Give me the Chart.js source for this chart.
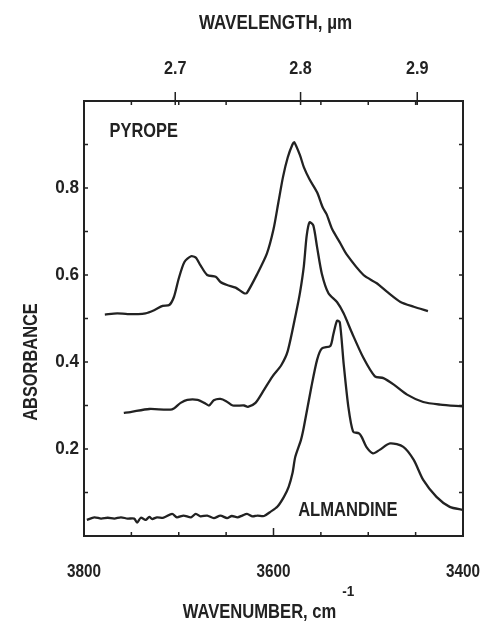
<!DOCTYPE html>
<html>
<head>
<meta charset="utf-8">
<script src="https://cdn.jsdelivr.net/npm/chart.js@4.4.0/dist/chart.umd.min.js"></script>
<style>
  body { margin: 0; background: #fff; }
  #c { display: block; }
</style>
</head>
<body>
<canvas id="c" width="486" height="631"></canvas>
<script>
// spectra (wavenumber cm-1, absorbance)
var pyropeWn = [3778, 3765, 3754, 3735, 3726, 3717, 3710, 3705, 3700, 3694, 3687, 3682, 3677, 3670, 3661, 3656, 3649, 3640, 3631, 3628, 3617, 3607, 3600, 3595, 3590, 3585, 3580, 3578, 3572, 3568, 3562, 3554, 3548, 3544, 3538, 3530, 3523, 3505, 3491, 3480, 3466, 3452, 3437];
var pyropeAbs = [0.509, 0.512, 0.510, 0.512, 0.519, 0.529, 0.531, 0.550, 0.592, 0.630, 0.643, 0.640, 0.622, 0.600, 0.596, 0.584, 0.577, 0.571, 0.558, 0.559, 0.603, 0.649, 0.705, 0.765, 0.825, 0.870, 0.900, 0.905, 0.875, 0.848, 0.820, 0.790, 0.755, 0.740, 0.705, 0.675, 0.648, 0.600, 0.581, 0.561, 0.538, 0.527, 0.517];

var middleWn = [3758, 3751, 3731, 3707, 3698, 3691, 3680, 3673, 3668, 3663, 3656, 3650, 3643, 3631, 3627, 3619, 3610, 3601, 3592, 3585, 3576, 3572, 3568, 3565, 3562, 3558, 3554, 3549, 3542, 3533, 3526, 3517, 3505, 3493, 3484, 3473, 3459, 3442, 3424, 3401];
var middleAbs = [0.283, 0.285, 0.292, 0.291, 0.306, 0.313, 0.313, 0.306, 0.300, 0.312, 0.315, 0.310, 0.300, 0.300, 0.297, 0.306, 0.336, 0.367, 0.392, 0.425, 0.515, 0.560, 0.620, 0.690, 0.721, 0.714, 0.664, 0.603, 0.558, 0.538, 0.512, 0.466, 0.409, 0.367, 0.363, 0.348, 0.325, 0.308, 0.302, 0.298];

var almandineWn = [3797, 3789, 3782, 3775, 3768, 3761, 3754, 3747, 3744, 3740, 3735, 3731, 3728, 3723, 3716, 3707, 3702, 3695, 3687, 3682, 3677, 3670, 3663, 3656, 3649, 3644, 3638, 3633, 3628, 3622, 3617, 3610, 3603, 3596, 3589, 3584, 3580, 3577, 3571, 3568, 3560, 3554, 3549, 3540, 3537, 3533, 3530, 3526, 3521, 3516, 3510, 3507, 3502, 3495, 3488, 3477, 3463, 3452, 3442, 3428, 3414, 3400];
var almandineAbs = [0.037, 0.043, 0.040, 0.042, 0.040, 0.043, 0.040, 0.040, 0.031, 0.042, 0.037, 0.044, 0.039, 0.043, 0.042, 0.051, 0.043, 0.047, 0.043, 0.051, 0.045, 0.047, 0.041, 0.047, 0.041, 0.046, 0.043, 0.047, 0.051, 0.045, 0.047, 0.046, 0.056, 0.067, 0.090, 0.113, 0.144, 0.182, 0.221, 0.250, 0.343, 0.405, 0.431, 0.437, 0.462, 0.495, 0.491, 0.397, 0.297, 0.240, 0.236, 0.228, 0.205, 0.190, 0.198, 0.213, 0.205, 0.175, 0.129, 0.090, 0.067, 0.060];

// axes
var wnLabels = [3800, 3600, 3400];
var wnMinor = [3750, 3700, 3650, 3550, 3500, 3450];
var wlLabels = [2.7, 2.8, 2.9];
var absLabels = [0.2, 0.4, 0.6, 0.8];
var absMinor = [0.1, 0.3, 0.5, 0.7, 0.9];

var INK = '#222222';
var FONT = '"Liberation Sans", Arial, sans-serif';

function pts(xs, ys) {
    return xs.map(function (x, i) { return { x: x, y: ys[i] }; });
}

function ds(xs, ys) {
    return {
        data: pts(xs, ys),
        borderColor: INK,
        borderWidth: 2.3,
        pointRadius: 0,
        tension: 0.25,
        fill: false
    };
}

// narrow plotter lettering: squeeze the text horizontally
function txt(ctx, s, x, y, font, align, sx) {
    ctx.save();
    ctx.font = font;
    ctx.textAlign = align;
    ctx.textBaseline = 'middle';
    ctx.translate(x, y);
    ctx.scale(sx, 1);
    ctx.fillText(s, 0, 0);
    var w = ctx.measureText(s).width * sx;
    ctx.restore();
    return w;
}

var frame = {
    id: 'frame',
    afterDraw: function (chart) {
        var ctx = chart.ctx;
        var a = chart.chartArea;
        var x = chart.scales.x, y = chart.scales.y;
        ctx.save();
        ctx.strokeStyle = INK;
        ctx.fillStyle = INK;
        ctx.lineWidth = 2;
        ctx.strokeRect(a.left, a.top, a.right - a.left, a.bottom - a.top);

        ctx.lineWidth = 1.5;
        ctx.beginPath();
        absLabels.concat(absMinor).forEach(function (v) {
            var py = y.getPixelForValue(v);
            ctx.moveTo(a.left, py); ctx.lineTo(a.left + 4, py);
            ctx.moveTo(a.right, py); ctx.lineTo(a.right - 4, py);
        });
        wnMinor.forEach(function (v) {
            var px = x.getPixelForValue(v);
            ctx.moveTo(px, a.bottom); ctx.lineTo(px, a.bottom - 4);
            ctx.moveTo(px, a.top); ctx.lineTo(px, a.top + 4);
        });
        wnLabels.forEach(function (v) {
            var px = x.getPixelForValue(v);
            ctx.moveTo(px, a.bottom); ctx.lineTo(px, a.bottom - 8);
        });
        wlLabels.forEach(function (w) {
            var px = x.getPixelForValue(10000 / w);
            ctx.moveTo(px, a.top - 9); ctx.lineTo(px, a.top + 4);
        });
        ctx.stroke();

        // tick labels
        var tf = 'bold 18px ' + FONT;
        absLabels.forEach(function (v) {
            txt(ctx, v.toFixed(1), a.left - 5, y.getPixelForValue(v), tf, 'right', 0.95);
        });
        wnLabels.forEach(function (v) {
            txt(ctx, String(v), x.getPixelForValue(v), a.bottom + 36, tf, 'center', 0.85);
        });
        wlLabels.forEach(function (w) {
            txt(ctx, w.toFixed(1), x.getPixelForValue(10000 / w), a.top - 32, tf, 'center', 0.9);
        });

        // sample names
        txt(ctx, 'PYROPE', x.getPixelForValue(3773), y.getPixelForValue(0.93), 'bold 21px ' + FONT, 'left', 0.78);
        txt(ctx, 'ALMANDINE', x.getPixelForValue(3574), y.getPixelForValue(0.06), 'bold 21px ' + FONT, 'left', 0.79);

        // axis titles
        var cx = (a.left + a.right) / 2;
        txt(ctx, 'WAVELENGTH, \u00b5m', cx + 2, 23, 'bold 21px ' + FONT, 'center', 0.81);
        var w = txt(ctx, 'WAVENUMBER, cm', cx - 14, 612, 'bold 21px ' + FONT, 'center', 0.79);
        txt(ctx, '-1', cx - 14 + w / 2 + 6, 592, 'bold 15px ' + FONT, 'left', 0.9);

        ctx.translate(31, 362);
        ctx.rotate(-Math.PI / 2);
        txt(ctx, 'ABSORBANCE', 0, 0, 'bold 20px ' + FONT, 'center', 0.82);
        ctx.restore();
    }
};

new Chart(document.getElementById('c'), {
    type: 'line',
    data: {
        datasets: [
            ds(pyropeWn, pyropeAbs),
            ds(middleWn, middleAbs),
            ds(almandineWn, almandineAbs)
        ]
    },
    options: {
        responsive: false,
        animation: false,
        layout: { padding: { left: 0, right: 23, top: 0, bottom: 0 } },
        plugins: { legend: { display: false }, tooltip: { enabled: false } },
        scales: {
            x: {
                type: 'linear',
                position: 'bottom',
                min: 3400, max: 3800,
                reverse: true,
                grid: { display: false },
                border: { display: false },
                ticks: { display: false },
                afterFit: function (s) { s.height = 95; }
            },
            y: {
                min: 0, max: 1.0,
                grid: { display: false },
                border: { display: false },
                ticks: { display: false },
                afterFit: function (s) { s.width = 84; }
            },
            yTop: {
                // empty top band that holds the wavelength axis
                axis: 'x',
                type: 'linear',
                position: 'top',
                min: 3400, max: 3800,
                grid: { display: false },
                border: { display: false },
                ticks: { display: false },
                afterFit: function (s) { s.height = 101; }
            }
        }
    },
    plugins: [frame]
});
</script>
</body>
</html>
